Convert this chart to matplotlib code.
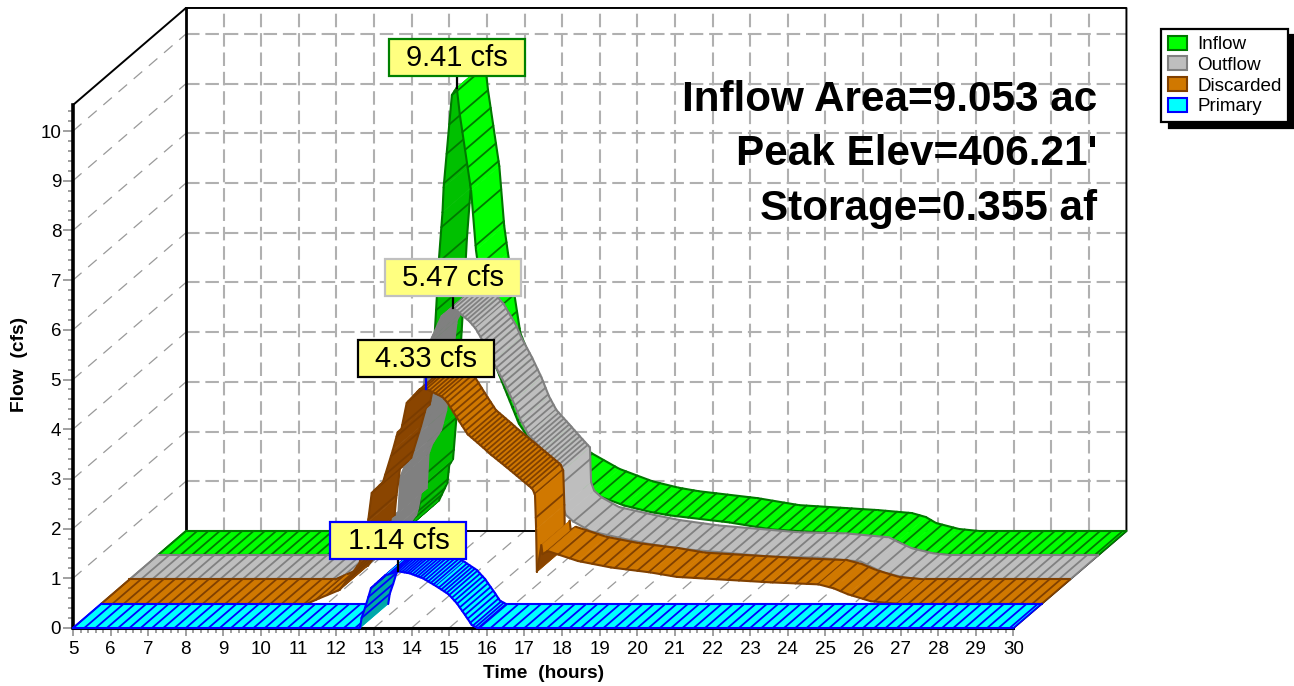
import numpy as np
import matplotlib
matplotlib.use("Agg")
import matplotlib.pyplot as plt
from matplotlib.patches import Patch, Rectangle
from matplotlib.ticker import AutoMinorLocator, MultipleLocator

plt.rcParams['font.family'] = ['Liberation Sans', 'DejaVu Sans']

names = ["Inflow", "Outflow", "Discarded", "Primary"]

inflow_t = [5, 10.5, 11.02, 11.73, 11.95, 12.0, 12.1, 12.2, 12.4, 12.47, 12.57, 12.6, 12.82, 12.95, 13.03, 13.33,
            13.46, 13.56, 13.89, 14.6, 15, 15.77, 16.52, 17.4, 18.1, 18.63, 20.2, 21.3, 22.57, 23.4, 24.3, 24.67,
            24.94, 25.55, 26.08, 30]
inflow_q = [0, 0, 0.16, 0.62, 0.97, 1.33, 1.45, 2.37, 4.93, 5.9, 6.9, 7.4, 9.26, 9.41, 8.87, 7.34,
            6.14, 5.59, 3.98, 2.65, 2.2, 1.57, 1.25, 1.0, 0.87, 0.8, 0.66, 0.52, 0.46, 0.42, 0.36, 0.28,
            0.16, 0.04, 0, 0]

outflow_t = [5, 10.47, 10.8, 11.34, 11.87, 11.92, 12.0, 12.15, 12.2, 12.3, 12.53, 12.67, 12.95, 13.05, 13.3, 13.6,
             14.03, 14.2, 14.53, 14.66, 14.95, 15.2, 15.4, 15.6, 15.98, 16.2, 16.49, 16.52, 16.6, 16.79, 17.26,
             18.14, 18.85, 19.9, 22.05, 23.3, 24.44, 24.7, 25.05, 25.6, 26.1, 30]
outflow_q = [0, 0, 0.11, 0.28, 0.82, 0.95, 1.27, 1.35, 2.05, 2.25, 2.52, 2.92, 4.73, 4.88, 5.3, 5.47,
             5.2, 5.05, 4.62, 4.39, 3.98, 3.58, 3.2, 2.92, 2.6, 2.41, 2.17, 1.47, 1.3, 1.17, 0.97,
             0.82, 0.71, 0.6, 0.46, 0.44, 0.36, 0.26, 0.14, 0.04, 0, 0]

discarded_t = [5, 10.47, 10.8, 11.34, 11.87, 11.95, 12.05, 12.09, 12.19, 12.49, 12.75, 12.88, 12.98, 13.12, 13.47, 13.62,
               14.07, 14.2, 14.44, 14.74, 15.14, 15.36, 15.77, 16.42, 16.47, 16.53, 16.56, 16.58, 16.7, 16.73, 16.87,
               17.11, 17.67, 18.55, 19.6, 20.3, 22.8, 24.07, 24.47, 24.85, 25.46, 26.17, 30]
discarded_q = [0, 0, 0.11, 0.28, 0.82, 1.25, 1.3, 1.64, 2.23, 2.45, 3.09, 3.45, 3.52, 4.04, 4.32, 4.33,
               4.16, 4.05, 3.76, 3.41, 3.15, 3.0, 2.75, 2.34, 2.3, 2.19, 1.5, 0.64, 1.18, 1.0, 1.06,
               1.0, 0.86, 0.73, 0.63, 0.54, 0.43, 0.39, 0.31, 0.19, 0.05, 0, 0]

primary_t = [5, 12.63, 12.67, 12.76, 12.85, 12.92, 13.3, 13.65, 13.95, 14.3, 14.66, 14.98, 15.2, 15.46, 15.6, 15.75, 30]
primary_q = [0, 0, 0.2, 0.4, 0.62, 0.8, 1.06, 1.14, 1.1, 1.0, 0.84, 0.68, 0.5, 0.22, 0.06, 0, 0]

peak_labels = ["9.41 cfs", "5.47 cfs", "4.33 cfs", "1.14 cfs"]
peak_t = [12.95, 13.6, 13.62, 13.65]
peak_q = [9.41, 5.47, 4.33, 1.14]

info_lines = ["Inflow Area=9.053 ac", "Peak Elev=406.21'", "Storage=0.355 af"]

light = ["#00ff00", "#bebebe", "#d07800", "#00ffff"]
dark = ["#00c000", "#808080", "#8a4500", "#00a8a8"]
edge = ["#007800", "#808080", "#804000", "#0000ff"]
under_hatch = ["#007800", "#808080", "#7a3c00", "#0000ff"]
box_edge = ["#008000", "#c0c0c0", "#000000", "#0000ff"]
leader = ["k", "k", "#0000ff", "k"]
# front-to-back position of each ribbon, 3 = furthest back
depth = [3, 2, 1, 0]
# (from, to, step) of the hatch lines along time
hatch_runs = [
    [(5, 11.0, 0.3), (11.0, 12.05, 0.08), (12.05, 14.6, 0.07), (14.6, 30, 0.3)],
    [(5, 11.5, 0.3), (11.5, 13.0, 0.12), (13.0, 16.5, 0.07), (16.5, 30, 0.3)],
    [(5, 11.5, 0.3), (11.5, 13.4, 0.15), (13.4, 16.55, 0.08), (16.55, 30, 0.3)],
    [(5, 12.58, 0.3), (12.58, 13.6, 0.09), (13.6, 15.8, 0.07), (15.8, 30, 0.3)],
]

# one ribbon step into the picture, in hours and cfs
DX = 0.7505
DY = 0.488
PX_T = 37.62
PX_Q = 49.7


def proj(t, q, d):
    return t + d * DX, q + d * DY


def ribbon(ax, t, q, d, col_l, col_d, col_e, col_h, runs, z):
    t = np.array(t, dtype=float)
    q = np.array(q, dtype=float)
    hatch = np.concatenate([np.arange(a, b, s) for a, b, s in runs])
    tt = np.union1d(t, hatch)
    qq = np.interp(tt, t, q)
    for i in range(len(tt) - 1):
        x0, y0 = proj(tt[i], qq[i], d)
        x1, y1 = proj(tt[i + 1], qq[i + 1], d)
        x2, y2 = proj(tt[i + 1], qq[i + 1], d + 1)
        x3, y3 = proj(tt[i], qq[i], d + 1)
        # steeper than the depth direction: we look at the underside
        under = (qq[i + 1] - qq[i]) / (tt[i + 1] - tt[i]) > DY / DX
        c = col_d if under else col_l
        ax.fill([x0, x1, x2, x3], [y0, y1, y2, y3], facecolor=c, edgecolor=c, lw=0.4, clip_on=False, zorder=z)
        if tt[i] in hatch:
            ax.plot([x0, x3], [y0, y3], color=col_h if under else col_e, lw=1.3, clip_on=False, zorder=z,
                    solid_capstyle='butt')
        ax.plot([x0, x1], [y0, y1], color=col_e, lw=1.5, clip_on=False, zorder=z, solid_capstyle='round')
        ax.plot([x3, x2], [y3, y2], color=col_e, lw=1.5, clip_on=False, zorder=z, solid_capstyle='round')
    ax.plot(*zip(proj(t[0], q[0], d), proj(t[0], q[0], d + 1)), color=col_e, lw=1.3, clip_on=False, zorder=z)
    ax.plot(*zip(proj(t[-1], q[-1], d), proj(t[-1], q[-1], d + 1)), color=col_e, lw=1.3, clip_on=False, zorder=z)


fig = plt.figure(figsize=(12.94, 6.86), dpi=100)
ax = fig.add_axes([73 / 1294, 58 / 686, 940.5 / 1294, 523 / 686])
ax.patch.set_visible(False)
ax.set_xlim(5, 30)
ax.set_ylim(0, 523 / PX_Q)
top = 523 / PX_Q
back = 4

# walls and floor
grid = dict(color="#b0b0b0", lw=1.5, dashes=(6.5, 2.8), clip_on=False, zorder=1)
thin = dict(color="#999999", lw=0.9, dashes=(9, 7), clip_on=False, zorder=1)
for h in range(6, 30):
    x0, y0 = proj(h, 0, back)
    x1, y1 = proj(h, top, back)
    ax.plot([x0, x1], [y0, y1], **grid)
for h in range(5, 30):
    x0, y0 = proj(h, 0, 0)
    x1, y1 = proj(h, 0, back)
    ax.plot([x0, x1], [y0, y1], **thin)
x0, y0 = proj(5, top, back)
ax.plot([x0, x0], [y0, proj(5, 0, back)[1]], color="k", lw=2, clip_on=False, zorder=2)
for f in range(1, 11):
    x0, y0 = proj(5, f, back)
    x1, y1 = proj(30, f, back)
    ax.plot([x0, x1], [y0, y1], **grid)
    x2, y2 = proj(5, f, 0)
    ax.plot([x2, x0], [y2, y0], **thin)
solid = dict(color="k", lw=1.4, clip_on=False, zorder=2)
ax.plot(*zip(proj(5, top, 0), proj(5, top, back), proj(30, top, back), proj(30, 0, back), proj(30, 0, 0)), **solid)
ax.plot(*zip(proj(5, 0, back), proj(30, 0, back)), **solid)

series_t = [inflow_t, outflow_t, discarded_t, primary_t]
series_q = [inflow_q, outflow_q, discarded_q, primary_q]
for i in range(4):
    ribbon(ax, series_t[i], series_q[i], depth[i], light[i], dark[i], edge[i], under_hatch[i], hatch_runs[i], 5 + i)

# peak labels
box_w = 136 / PX_T
box_h = 37 / PX_Q
gap = 12 / PX_Q
for i in range(4):
    x, y = proj(peak_t[i], peak_q[i], depth[i])
    ax.plot([x, x], [y, y + gap], color=leader[i], lw=1.6, clip_on=False, zorder=12)
    ax.add_patch(Rectangle((x - box_w / 2, y + gap), box_w, box_h, facecolor="#ffff80", edgecolor=box_edge[i],
                           lw=1.6, clip_on=False, zorder=13))
    ax.text(x, y + gap + box_h / 2 - 0.01, peak_labels[i], ha="center", va="center", fontsize=21, color="k",
            clip_on=False, zorder=14)

# axes
for s in ["top", "right"]:
    ax.spines[s].set_visible(False)
ax.spines["left"].set_linewidth(2.6)
ax.spines["bottom"].set_linewidth(2.2)
ax.xaxis.set_major_locator(MultipleLocator(1))
ax.yaxis.set_major_locator(MultipleLocator(1))
ax.xaxis.set_minor_locator(AutoMinorLocator(5))
ax.yaxis.set_minor_locator(AutoMinorLocator(5))
ax.tick_params(axis="both", which="major", colors="#909090", labelcolor="k", labelsize=13.5, width=1.2)
ax.tick_params(axis="y", which="major", length=7, pad=1.5)
ax.tick_params(axis="x", which="major", length=6, pad=3.5)
ax.tick_params(axis="both", which="minor", colors="#909090", width=1.2, length=3.5)
ax.set_xlabel("Time  (hours)", fontsize=13.8, fontweight="bold")
ax.set_ylabel("Flow  (cfs)", fontsize=13.8, fontweight="bold")
ax.xaxis.set_label_coords(0.5, -0.0703)
ax.yaxis.set_label_coords(-0.048, 0.504)

for line, y in zip(info_lines, [100, 154, 209]):
    fig.text(1097 / 1294, 1 - y / 686, line, ha="right", va="center", fontsize=30.4, fontweight="bold", color="k")

handles = [Patch(facecolor=light[i], edgecolor=edge[i], lw=1.5) for i in range(4)]
leg = fig.legend(handles, names, loc="upper left", bbox_to_anchor=(1161 / 1294, 1 - 29 / 686), fontsize=13.6,
                 frameon=True, fancybox=False, edgecolor="k", framealpha=1, borderaxespad=0, borderpad=0.36,
                 labelspacing=0.16, handlelength=1.0, handleheight=0.76, handletextpad=0.55,
                 shadow=dict(color="k", alpha=1, ox=5.8, oy=-4.4))
leg.get_frame().set_linewidth(1.6)

fig.savefig("out.png", dpi=100)
